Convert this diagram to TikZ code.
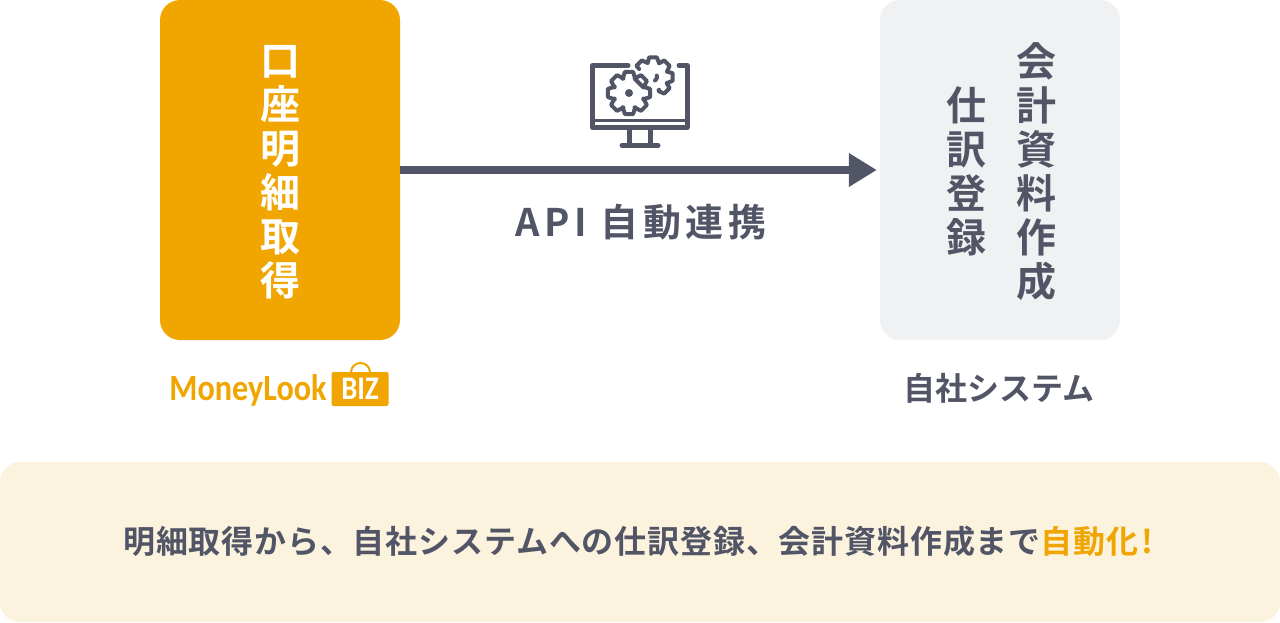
\documentclass[tikz,border=0pt]{standalone}
\usepackage{fontspec}
\setmainfont{Noto Sans CJK JP}[BoldFont={Noto Sans CJK JP Bold}]
\newfontfamily\logofont{Carlito}[FakeStretch=0.87]
\definecolor{Amber}{HTML}{F0A500}
\definecolor{Slate}{HTML}{515565}
\definecolor{GrayLight}{HTML}{F0F1F3}
\definecolor{AmberLight}{HTML}{FCF3DF}
\usetikzlibrary{arrows.meta, positioning}
\tikzset{
  box/.style={
    rectangle, rounded corners=20pt,
    minimum width=240pt, minimum height=340pt,
    inner sep=0pt
  },
  vtext/.style={
    align=center, inner sep=0pt,
    font=\fontsize{40}{44}\selectfont\bfseries
  },
  arr/.style={-{Triangle[length=28pt,width=32pt]}, line width=8pt, color=Slate, shorten >=3pt},
  icon/.style={draw=Slate, line width=5pt, line cap=round, line join=round},
}
\begin{document}
\begin{tikzpicture}[x=1pt, y=-1pt]
\useasboundingbox (0,0) rectangle (1280,622);

% Two systems and the band below
\node[box, fill=Amber] at (280,170) (source) {};
\node[box, fill=GrayLight] at (1000,170) (target) {};
\node[rectangle, rounded corners=20pt, fill=AmberLight, minimum width=1280pt, minimum height=160pt, inner sep=0pt] at (640,542) (band) {};

\node[vtext, text=white] at (280,172) (sourcetext) {口\\座\\明\\細\\取\\得};
\node[vtext, text=Slate] at (1036,172) (closing) {会\\計\\資\\料\\作\\成};
\node[vtext, text=Slate] at (966,171) (journal) {仕\\訳\\登\\録};

\draw[arr] (source.east) -- (target.west);
\node[text=Slate, font=\fontsize{38}{40}\selectfont\bfseries\addfontfeature{LetterSpace=12}, inner sep=0pt] at (641,222) (apilabel) {API 自動連携};
\node[text=Slate, font=\fontsize{32}{36}\selectfont\bfseries, inner sep=0pt] at (999,388) (ownsystem) {自社システム};

% Logo
\node[text=Amber, font=\fontsize{37}{38}\selectfont\logofont\bfseries, inner sep=0pt] at (248,390) (logotext) {MoneyLook};
\node[rectangle, rounded corners=2pt, fill=Amber, text=white, minimum width=57pt, minimum height=34pt, inner sep=0pt, font=\fontsize{33}{34}\selectfont\logofont\bfseries] at (360,389) (logobadge) {BIZ};
\draw[draw=Amber, line width=2pt] (351,372) .. controls (352,360) and (369,360) .. (370,372);

% Monitor with gears
\draw[icon] (628,65.5) -- (592.5,65.5) -- (592.5,127.5) -- (687,127.5) -- (687,65.5) -- (679,65.5);
\draw[icon, line width=3pt, line cap=butt] (592.5,120.5) -- (687,120.5);
\draw[icon] (629,130) -- (629,145);
\draw[icon] (650.5,130) -- (650.5,145);
\draw[icon] (622,145.5) -- (658,145.5);

\begin{scope}[shift={(629,93)}]
\draw[icon, line width=4pt] \foreach \a in {0,45,...,315} {
  (\a-24:15.5) -- (\a-11:21.5) -- (\a+11:21.5) -- (\a+24:15.5)
} -- cycle;
\fill[Slate] (0,0) circle (4pt);
\end{scope}

\begin{scope}[shift={(653,77)}]
\draw[icon, line width=4pt] (-150:16) \foreach \a in {-135,-90,-45,0,45} {
  -- (\a-11:20) -- (\a+11:20) -- (\a+24:15)
} -- (65:14);
\draw[icon, line width=4pt] (-20:4) arc (-20:60:4);
\end{scope}

% Band text
\node[text=Slate, font=\fontsize{32}{36}\selectfont\bfseries\addfontfeature{LetterSpace=2.6}, inner sep=0pt, anchor=west] at (123,541) (summary) {明細取得から、自社システムへの仕訳登録、会計資料作成まで\textcolor{Amber}{自動化\hspace{3pt}!}};

\end{tikzpicture}
\end{document}
